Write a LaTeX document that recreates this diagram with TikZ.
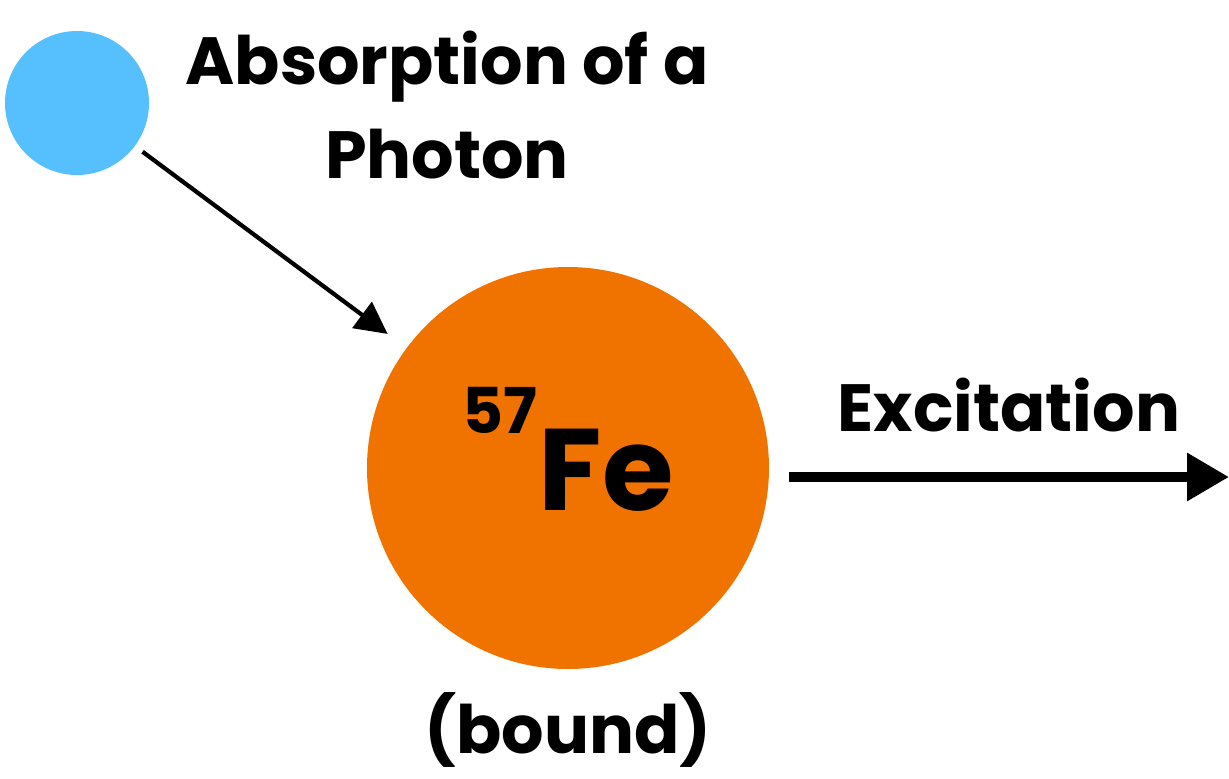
\documentclass[tikz,border=0pt]{standalone}
\usepackage{fontspec}
\setmainfont{Poppins}
\definecolor{photonBlue}{HTML}{56C0FF}
\definecolor{ironOrange}{HTML}{F07300}
\usepackage{tikz}
\usetikzlibrary{arrows.meta, positioning, calc}

\begin{document}
\begin{tikzpicture}[
  ball/.style={circle, inner sep=0pt, draw=none},
  caption/.style={font=\fontsize{19}{27}\selectfont\bfseries, align=center, inner sep=0pt},
  thinarrow/.style={line width=1.2pt, -{Triangle[length=0.32cm, width=0.32cm]}},
  bigarrow/.style={line width=2.7pt, -{Triangle[length=0.42cm, width=0.46cm]}}]

  \useasboundingbox (0,0) rectangle (12.29,-7.79);

  \node[ball, fill=photonBlue, minimum size=1.44cm] (photon) at (0.77,-1.03) {};
  \node[caption] (absorb) at (4.47,-1.05) {Absorption of a\\Photon};

  \node[ball, fill=ironOrange, minimum size=4.02cm] (fe) at (5.68,-4.68) {};
  \node[inner sep=0pt, font=\fontsize{33}{33}\selectfont\bfseries] (symbol) at (6.06,-4.70) {Fe};
  \node[inner sep=0pt, font=\fontsize{18}{18}\selectfont\bfseries] (mass) at (5.00,-4.10) {57};
  \node[caption] (bound) at (5.68,-7.30) {(bound)};

  \coordinate (excEnd) at (12.29,-4.77);
  \node[caption] (excite) at (10.09,-4.05) {Excitation};

  \draw[thinarrow, shorten <=0.09cm, shorten >=0.23cm] (photon) -- (fe);
  \draw[bigarrow, shorten <=0.19cm] (fe.east |- excEnd) -- (excEnd);
\end{tikzpicture}
\end{document}
